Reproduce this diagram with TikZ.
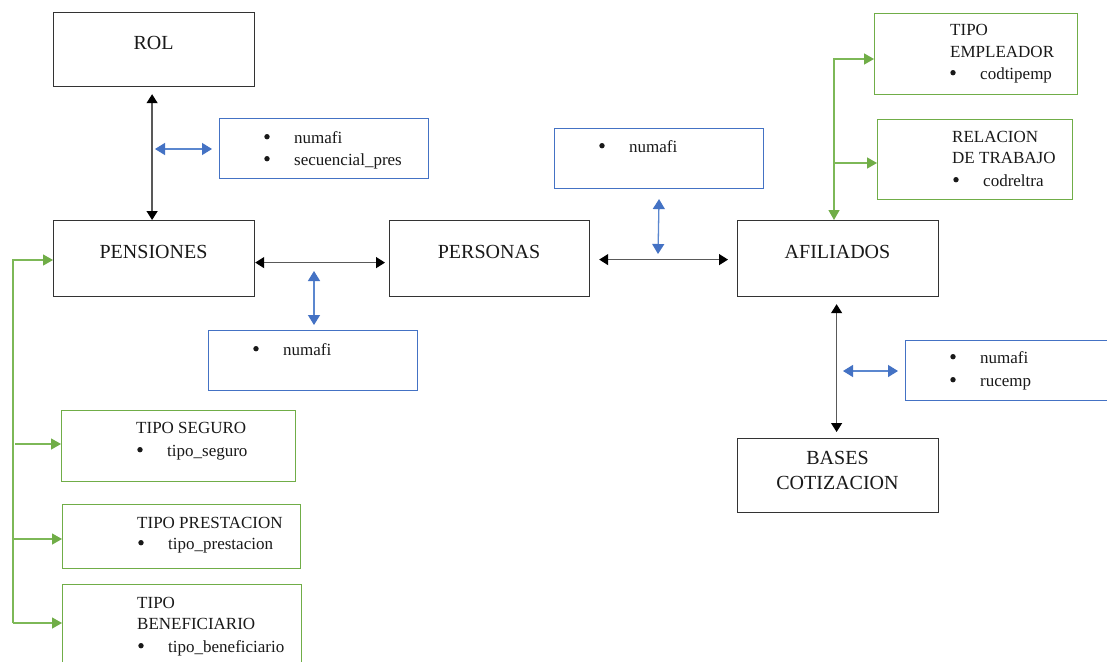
\documentclass[tikz,border=0pt]{standalone}
\usepackage{fontspec}
\setmainfont{Liberation Serif}
\usetikzlibrary{arrows.meta}
\definecolor{bboxc}{HTML}{4472C4}
\definecolor{blin}{HTML}{5B87CF}
\definecolor{gboxc}{HTML}{70AD47}
\definecolor{glin}{HTML}{7DB857}
\newcommand{\bitem}[4]{\node[sm] (#1) at (#2,#3) {#4};
  \fill[black!90] ([shift={(-27,-6.3)}]#1.base west) circle (2.7pt);}
\begin{document}
\begin{tikzpicture}[x=1pt,y=-1pt,
  ent/.style={draw=black!80, line width=1.2pt, inner sep=0, anchor=north west},
  attb/.style={draw=bboxc, line width=1.1pt, inner sep=0, anchor=north west},
  attg/.style={draw=gboxc, line width=1.1pt, inner sep=0, anchor=north west},
  big/.style={font=\fontsize{20}{24}\selectfont, inner sep=0, anchor=base, text=black!90},
  sm/.style={font=\fontsize{17}{20}\selectfont, inner sep=0, anchor=base west, text=black!90},
  barrow/.style={draw=black!65, line width=1.3pt, <->, >={Triangle[length=9pt,width=11pt,color=black]}},
  blarrow/.style={draw=blin, line width=1.3pt, <->, >={Triangle[length=10pt,width=12pt,color=bboxc]}},
  garrow/.style={draw=glin, line width=1.3pt, >={Triangle[length=10pt,width=11pt,color=gboxc]}}
]
\useasboundingbox (0,0) rectangle (1107,661);
\clip (0,0) rectangle (1107,661);
\fill[white] (0,0) rectangle (1107,661);

% entity boxes
\node[ent, minimum width=201pt, minimum height=74pt] (rol) at (53,12) {};
\node[ent, minimum width=201pt, minimum height=76pt] (pens) at (53,220) {};
\node[ent, minimum width=200pt, minimum height=76pt] (pers) at (389,220) {};
\node[ent, minimum width=201pt, minimum height=76pt] (afil) at (737,220) {};
\node[ent, minimum width=201pt, minimum height=74pt] (bases) at (737,438) {};

% blue attribute boxes
\node[attb, minimum width=209pt, minimum height=60pt] (b1) at (219,118) {};
\node[attb, minimum width=209pt, minimum height=60pt] (b2) at (554,128) {};
\node[attb, minimum width=209pt, minimum height=60pt] (b3) at (208,330) {};
\node[attb, minimum width=230pt, minimum height=60pt] (b4) at (905,340) {};

% green boxes
\node[attg, minimum width=203pt, minimum height=81pt] (temp) at (874,13) {};
\node[attg, minimum width=195pt, minimum height=80pt] (rel) at (877,119) {};
\node[attg, minimum width=234pt, minimum height=71pt] (seg) at (61,410) {};
\node[attg, minimum width=238pt, minimum height=64pt] (prest) at (62,504) {};
\node[attg, minimum width=239pt, minimum height=100pt] (benef) at (62,584) {};

% entity labels
\node[big] (tRol) at (153.5,49) {ROL};
\node[big] (tPens) at (153.5,258) {PENSIONES};
\node[big] (tPers) at (489,258) {PERSONAS};
\node[big] (tAfil) at (837.5,258) {AFILIADOS};
\node[big] (tBases) at (837.5,464) {BASES};
\node[big] (tCot) at (837.5,489) {COTIZACION};

% attribute texts
\bitem{a11}{294}{143}{numafi}
\bitem{a12}{294}{165}{secuencial\_pres}
\bitem{a21}{629}{152}{numafi}
\bitem{a31}{283}{355}{numafi}
\bitem{a41}{980}{363}{numafi}
\bitem{a42}{980}{386}{rucemp}

\node[sm] (te1) at (950,36) {TIPO};
\node[sm] (te2) at (950,57) {EMPLEADOR};
\bitem{te3}{980}{79}{codtipemp}
\node[sm] (re1) at (952,142) {RELACION};
\node[sm] (re2) at (952,163) {DE TRABAJO};
\bitem{re3}{983}{186}{codreltra}
\node[sm] (se1) at (136,433) {TIPO SEGURO};
\bitem{se2}{167}{456}{tipo\_seguro}
\node[sm] (pr1) at (137,528) {TIPO PRESTACION};
\bitem{pr2}{168}{549}{tipo\_prestacion}
\node[sm] (be1) at (137,608) {TIPO};
\node[sm] (be2) at (137,629) {BENEFICIARIO};
\bitem{be3}{168}{652}{tipo\_beneficiario}

% black relations
\draw[barrow] ([shift={(-2,7)}]rol.south) -- ([xshift=-2pt]pens.north);
\draw[barrow, shorten >=4pt] ([yshift=-4pt]pens.east) -- ([yshift=-4pt]pers.west);
\draw[barrow, shorten <=9pt, shorten >=9pt] ([yshift=-1pt]pers.east) -- ([yshift=-1pt]afil.west);
\draw[barrow, shorten <=7pt, shorten >=6pt] ([xshift=-1.5pt]afil.south) -- ([xshift=-1.5pt]bases.north);

% blue connectors
\coordinate (c1) at (155,149);
\draw[blarrow, shorten >=7pt] (c1) -- (c1 -| b1.west);
\coordinate (c2) at (658,254);
\draw[blarrow] ([yshift=-10pt]b2.south) -- (c2);
\coordinate (c3) at (314,271);
\draw[blarrow, shorten >=5pt] (c3) -- (c3 |- b3.north);
\coordinate (c4) at (843,371);
\draw[blarrow, shorten >=7pt] (c4) -- (c4 -| b4.west);

% green connectors left
\coordinate (gl) at (13,623);
\coordinate (gtop) at (13,260);
\coordinate (gs) at (15,444);
\coordinate (gp) at (13,539);
\draw[garrow, ->] (gl) -- (gtop) -- (gtop -| pens.west);
\draw[garrow, ->] (gs) -- (gs -| seg.west);
\draw[garrow, ->] (gp) -- (gp -| prest.west);
\draw[garrow, ->] (gl) -- (gl -| benef.west);

% green connectors right
\coordinate (gr) at (834,59);
\coordinate (gr2) at (834,163);
\draw[garrow, <->] (gr -| temp.west) -- (gr) -- (gr |- afil.north);
\draw[garrow, ->] (gr2) -- (gr2 -| rel.west);
\end{tikzpicture}
\end{document}
